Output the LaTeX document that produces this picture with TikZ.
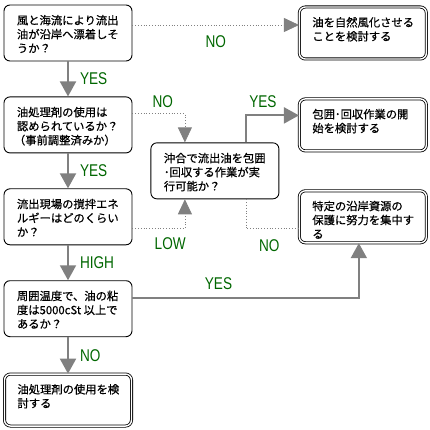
\documentclass[tikz,border=0pt]{standalone}
\usepackage{fontspec}
\setmainfont{Noto Sans CJK JP}[FakeBold=0.6]
\newfontfamily\lblfont[FakeStretch=0.8]{Liberation Sans}
\usetikzlibrary{arrows.meta, positioning, calc}
\definecolor{lblgreen}{HTML}{006600}
\definecolor{arrowgray}{HTML}{808080}

\begin{document}
\begin{tikzpicture}[
    node distance=35pt and 166.5pt,
    font=\fontsize{11.3pt}{14pt}\selectfont,
    question/.style={draw, line width=0.9pt, rounded corners=6pt, minimum width=128pt, minimum height=56pt, inner xsep=13pt, inner ysep=10pt,
        execute at begin node={\begin{minipage}[c][36pt][t]{102pt}},
        execute at end node={\end{minipage}}},
    action/.style={draw, line width=0.8pt, double, double distance=1.4pt, rounded corners=6pt, minimum width=127pt, minimum height=52pt, inner xsep=13pt, inner ysep=10pt,
        execute at begin node={\begin{minipage}[c][32pt][t]{101pt}},
        execute at end node={\end{minipage}}},
    arrow/.style={-{Triangle[length=15pt, width=16pt]}, line width=2pt, draw=arrowgray},
    dotarrow/.style={-{Triangle[length=15pt, width=14pt]}, line width=0.8pt, draw=arrowgray, dotted},
    dotline/.style={line width=0.8pt, draw=arrowgray, dotted},
    answer/.style={font=\lblfont\fontsize{17pt}{17pt}\selectfont, text=lblgreen, inner sep=0pt}
]
    \useasboundingbox (0,0) rectangle (430pt,-430pt);

    % Questions
    \node (q1) [question] at (68pt,-33pt) {風と海流により流出\\油が沿岸へ漂着しそ\\うか？};
    \node (q2) [question, below=of q1] {油処理剤の使用は\\認められているか？\\\hspace*{-3pt}（事前調整済みか）};
    \node (q3) [question, below=of q2] {流出現場の撹拌エネ\\ルギーはどのくらい\\か？};
    \node (q4) [question, below=of q3] {周囲温度で、油の粘\\度は5000cSt 以上で\\あるか？};
    \coordinate (mid) at ($(q2.east)!.5!(q3.east)$);
    \node (ctr) [question, right=18pt of mid] {沖合で流出油を包囲\\･回収する作業が実\\行可能か？};

    % Actions
    \node (a1) [action, right=of q1] {油を自然風化させる\\ことを検討する};
    \node (a2) [action, right=of q2] {包囲･回収作業の開\\始を検討する};
    \node (a3) [action, right=of q3] {特定の沿岸資源の\\保護に努力を集中す\\る};
    \node (a4) [action, below=36.5pt of q4] {油処理剤の使用を検\\討する};

    % Edges
    \draw [dotarrow] ([yshift=8pt]q1.east) -- ([yshift=8pt]q1.east -| a1.west) node[answer, midway, below=10pt] (no1) {NO};
    \draw [arrow] (q1) -- (q2) node[answer, midway, right=11pt] (yes1) {YES};
    \draw [dotarrow] ([yshift=11pt]q2.east) -| ([xshift=-30pt]ctr.north) node[answer, pos=.29, above=6pt] (no2) {NO};
    \draw [arrow] (q2) -- (q3) node[answer, midway, right=11pt] (yes2) {YES};
    \draw [dotarrow] ([yshift=-12pt]q3.east) -| ([xshift=-30pt]ctr.south) node[answer, pos=.36, below=8pt] (low) {LOW};
    \draw [arrow] (q3) -- (q4) node[answer, midway, right=11pt] (high) {HIGH};
    \draw [arrow] ([xshift=31pt]ctr.north) |- ([yshift=9.5pt]a2.west) node[answer, pos=.66, above=7pt] (yes3) {YES};
    \draw [dotline] ([xshift=31pt]ctr.south) |- ([yshift=-12pt]a3.west) node[answer, pos=.72, below=10pt] (no3) {NO};
    \draw [arrow] ([yshift=11pt]q4.east) -| ([xshift=-4pt]a3.south) node[answer, pos=.19, above=7pt] (yes4) {YES};
    \draw [arrow] (q4) -- (a4) node[answer, midway, right=11pt] (no4) {NO};
\end{tikzpicture}
\end{document}
